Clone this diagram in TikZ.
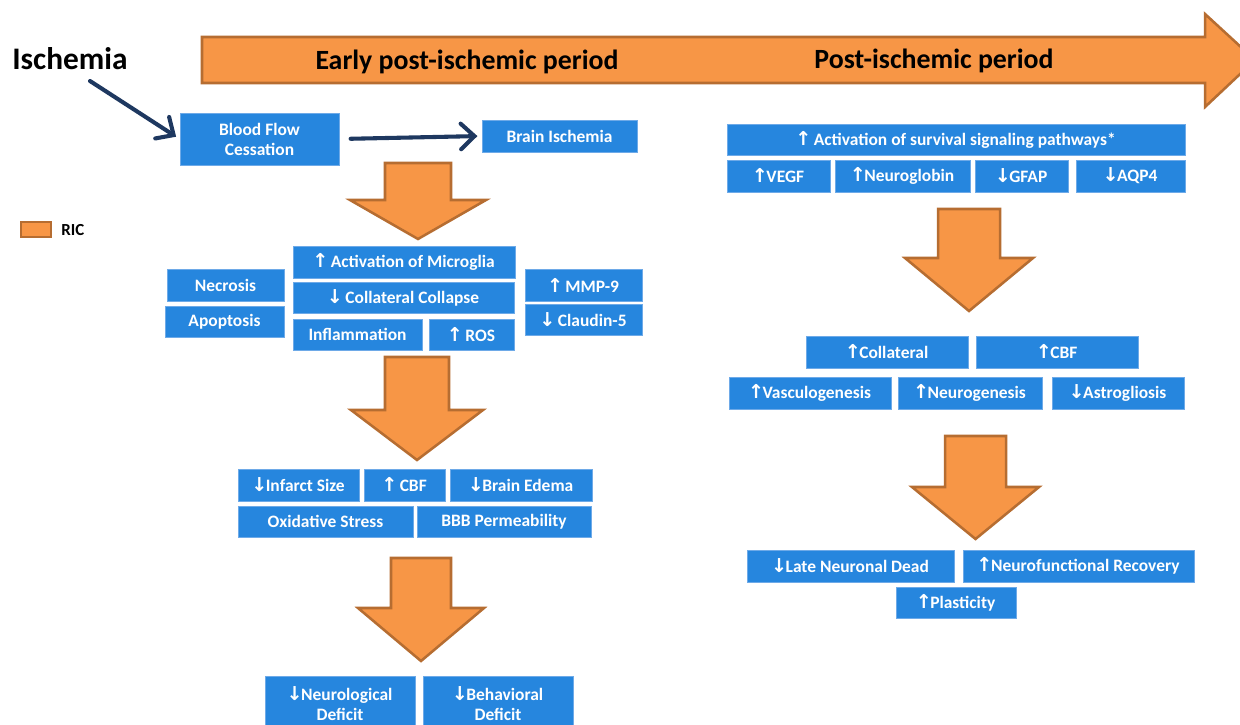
\documentclass[tikz,border=0pt]{standalone}
\usepackage{fontspec}
\setmainfont{Carlito}
\newfontfamily\symf{DejaVu Sans}[Scale=1.1]
\usetikzlibrary{arrows.meta}
\definecolor{boxblue}{RGB}{38,134,222}
\definecolor{boxedge}{RGB}{110,170,232}
\definecolor{orfill}{RGB}{247,150,70}
\definecolor{oredge}{RGB}{182,109,49}
\definecolor{navy}{RGB}{30,56,96}
\newcommand\up{{\symf\kern-0.05em ↑\kern-0.08em}}
\newcommand\dn{{\symf\kern-0.05em ↓\kern-0.08em}}
\newcommand\bx[6]{\node[box, minimum width={(#4-#2)*0.025cm}, minimum height={(#5-#3)*0.025cm}] (#1) at ({(#2+#4)/2},{(#3+#5)/2}) {#6};}
\newcommand\darr[7]{% name, cx, shaft half, top, head y, head half, tip y
  \path[orarrow] ({#2-#3},#4) -- ({#2+#3},#4) -- ({#2+#3},#5) -- ({#2+#6},#5) -- (#2,#7) -- ({#2-#6},#5) -- ({#2-#3},#5) -- cycle;
  \coordinate (#1) at (#2,#7);}
\tikzset{
  box/.style={fill=boxblue, draw=boxedge, line width=0.5pt, text=white, inner sep=0pt, align=center,
    font=\bfseries\fontsize{12.4}{14.2}\selectfont},
  orarrow/.style={fill=orfill, draw=oredge, line width=1.8pt, line join=miter},
  navyarrow/.style={draw=navy, line width=2.9pt, line cap=round,
    -{Straight Barb[length=3.4mm, width=6.4mm, line cap=round]}},
  title/.style={font=\bfseries\fontsize{19.8}{22}\selectfont, text=black, inner sep=0pt}
}
\begin{document}
\begin{tikzpicture}[x=0.025cm, y=-0.025cm]
\useasboundingbox (0,0) rectangle (1240,724);
\clip (0,0) rectangle (1240,724);
\fill[white] (0,0) rectangle (1240,724);

% big timeline arrow
\path[orarrow] (202,37) -- (1205,37) -- (1205,14) -- (1255,60) -- (1205,107) -- (1205,83) -- (202,83) -- cycle;
\node[title] (early) at (467,62) {Early post-ischemic period};
\node[title] (post) at (934,61) {Post-ischemic period};

% Ischemia
\node[font=\bfseries\fontsize{22.3}{24}\selectfont, inner sep=0pt] (isch) at (70,59) {Ischemia};
\coordinate (ischS) at (90,81);

% legend
\path[orarrow, line width=1.4pt] (21,222) rectangle (51,237);
\node[font=\bfseries\fontsize{12}{14}\selectfont, anchor=west, inner sep=0pt] (ric) at (61,230) {RIC};

% top boxes
\bx{bfc}{180}{113}{339}{165}{Blood Flow\\Cessation}
\bx{bi}{482}{120}{637}{152}{Brain Ischemia}
\draw[navyarrow, shorten >=3pt] (ischS) -- (bfc.west);
\draw[navyarrow, shorten <=8pt, shorten >=3pt] (bfc.east) -- (bi.west);

% left column
\darr{t1}{418}{33}{163}{200}{68}{239}
\bx{am}{293}{246}{515}{278}{\up\ Activation of Microglia}
\bx{cc}{293}{282}{514}{313}{\dn\ Collateral Collapse}
\bx{infl}{293}{319}{422}{350}{Inflammation}
\bx{ros}{429}{319}{514}{350}{\up\ ROS}
\bx{nec}{167}{269}{284}{301}{Necrosis}
\bx{apo}{165}{306}{284}{337}{Apoptosis}
\bx{mmp}{525}{269}{642}{301}{\up\ MMP-9}
\bx{cla}{525}{304}{642}{335}{\dn\ Claudin-5}

\darr{t2}{417}{32}{357}{410}{66}{460}
\bx{inf}{238}{469}{359}{501}{\dn Infarct Size}
\bx{cbfa}{364}{469}{445}{501}{\up\ CBF}
\bx{edema}{450}{469}{592}{501}{\dn Brain Edema}
\bx{ox}{238}{506}{413}{537}{Oxidative Stress}
\bx{bbb}{417}{506}{591}{537}{BBB Permeability}

\darr{t3}{421}{30}{558}{608}{63}{661}
\bx{neuro}{265}{676}{415}{731}{\dn Neurological\\Deficit}
\bx{beh}{423}{676}{573}{731}{\dn Behavioral\\Deficit}

% right column
\bx{surv}{727}{124}{1185}{155}{\up\ Activation of survival signaling pathways*}
\bx{vegf}{727}{160}{830}{192}{\up VEGF}
\bx{ngb}{835}{160}{970}{192}{\up Neuroglobin}
\bx{gfap}{975}{160}{1068}{192}{\dn GFAP}
\bx{aqp}{1076}{160}{1185}{192}{\dn AQP4}

\darr{t4}{969}{31}{209}{258}{64}{311}
\bx{coll}{806}{336}{968}{368}{\up Collateral}
\bx{cbfb}{976}{336}{1138}{368}{\up CBF}
\bx{vasc}{729}{377}{891}{409}{\up Vasculogenesis}
\bx{neug}{898}{377}{1042}{409}{\up Neurogenesis}
\bx{astro}{1052}{377}{1184}{409}{\dn Astrogliosis}

\darr{t5}{975.5}{30.5}{436}{487}{63.5}{539}
\bx{late}{747}{550}{954}{582}{\dn Late Neuronal Dead}
\bx{nfr}{963}{550}{1194}{582}{\up Neurofunctional Recovery}
\bx{plas}{896}{587}{1016}{618}{\up Plasticity}
\end{tikzpicture}
\end{document}
